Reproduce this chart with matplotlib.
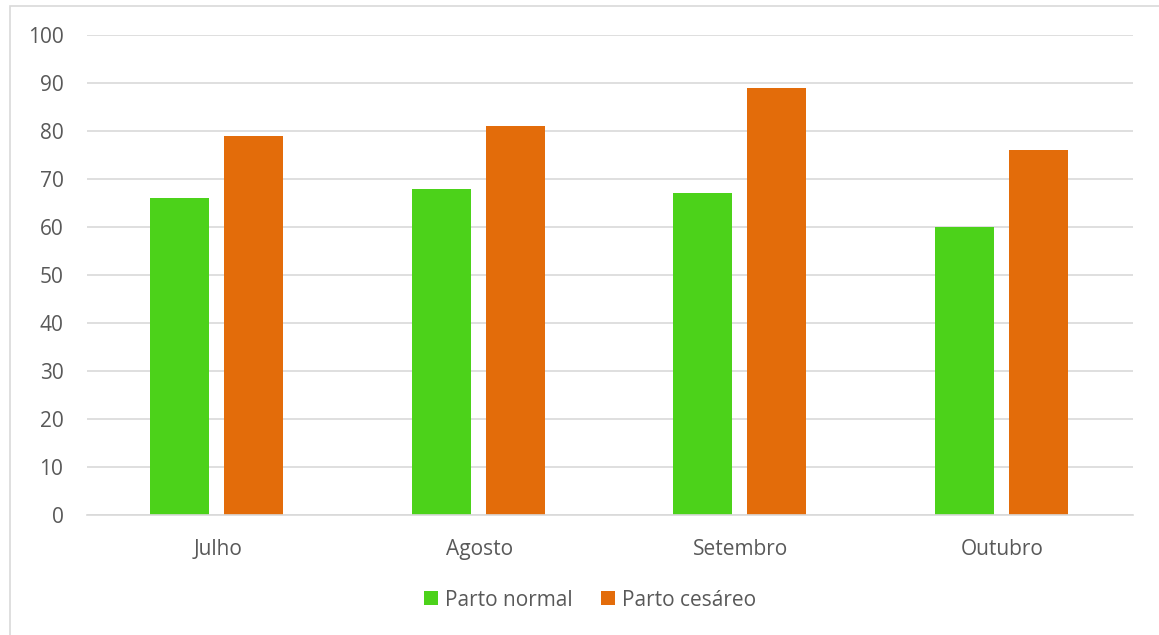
import matplotlib.pyplot as plt
import numpy as np
from matplotlib.patches import Rectangle

plt.rcParams["font.family"] = ["Open Sans", "DejaVu Sans"]

months = ["Julho", "Agosto", "Setembro", "Outubro"]
normal = [66, 68, 67, 60]
cesareo = [79, 81, 89, 76]
series_labels = ["Parto normal", "Parto cesáreo"]

GREEN = "#4CD21A"
ORANGE = "#E36C0A"
TEXT = "#595959"
GRID = "#D9D9D9"
FONT_SIZE = 15

fig = plt.figure(figsize=(11.59, 6.35), dpi=100)
ax = fig.add_axes([87 / 1159, 1 - 515 / 635, (1133 - 87) / 1159, (515 - 35) / 635])

# thin frame along the top/left edge of the chart area
fig.patches.append(
    Rectangle((10 / 1159, -0.1), 1.2, 1 - 6 / 635 + 0.1, transform=fig.transFigure,
              fill=False, edgecolor="#D9D9D9", linewidth=1.2, zorder=0)
)

x = np.arange(len(months))
width = 0.226
offset = 0.1415
ax.bar(x - offset - 0.004, normal, width, color=GREEN, label=series_labels[0], zorder=2)
ax.bar(x + offset - 0.004, cesareo, width, color=ORANGE, label=series_labels[1], zorder=2)

ax.set_xlim(-0.5, len(months) - 0.5)
ax.set_ylim(0, 100)
ax.set_yticks(np.arange(0, 101, 10))
ax.set_xticks(x)
ax.set_xticklabels(months)
ax.yaxis.grid(True, color=GRID, linewidth=1.2, zorder=0)
ax.set_axisbelow(True)
for side in ("top", "right", "left"):
    ax.spines[side].set_visible(False)
ax.spines["bottom"].set_color(GRID)
ax.spines["bottom"].set_linewidth(1.2)
ax.tick_params(axis="both", length=0, labelsize=FONT_SIZE, colors=TEXT)
ax.tick_params(axis="y", pad=17)
ax.tick_params(axis="x", pad=17)

leg = fig.legend(loc="center", bbox_to_anchor=(590 / 1159, 1 - 600 / 635), ncol=2,
                 frameon=False, fontsize=FONT_SIZE, handlelength=0.67, handleheight=0.67,
                 handletextpad=0.3, columnspacing=1.4)
for t in leg.get_texts():
    t.set_color(TEXT)

fig.savefig("out.png", dpi=100)
